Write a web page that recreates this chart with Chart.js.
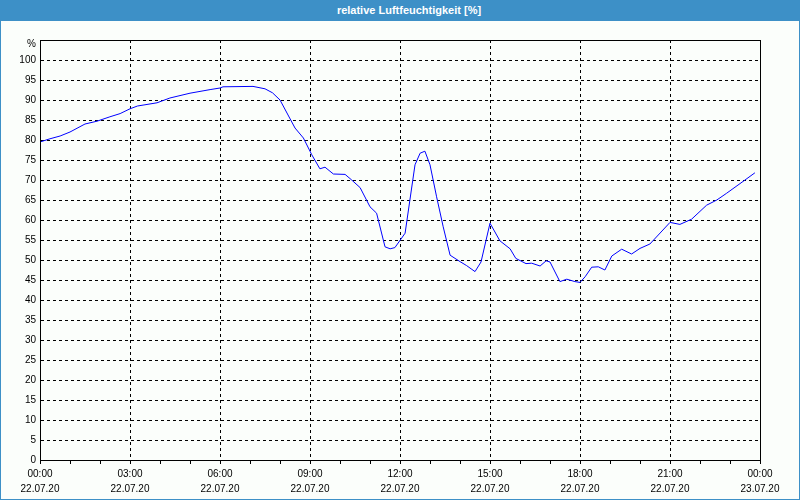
<!DOCTYPE html>
<html>
<head>
<meta charset="utf-8">
<script src="https://cdn.jsdelivr.net/npm/chart.js@4.4.0/dist/chart.umd.min.js"></script>
<style>
  body { margin: 0; background: #fbfefb; }
  #frame { position: relative; width: 800px; height: 500px; overflow: hidden; }
  #chart { position: absolute; left: 0; top: 0; }
  #title {
    position: absolute; left: 0; top: 0; width: 800px; height: 21px;
    background: #3d90c7; color: #fff; text-align: center;
    font: bold 11px "Liberation Sans", sans-serif; line-height: 20px;
    padding-left: 18px; box-sizing: border-box;
  }
  #border {
    position: absolute; left: 0; top: 0; width: 800px; height: 500px;
    box-sizing: border-box; border: 1px solid #3d90c7; pointer-events: none;
  }
</style>
</head>
<body>
<div id="frame">
  <canvas id="chart" width="800" height="500"></canvas>
  <div id="title">relative Luftfeuchtigkeit [%]</div>
  <div id="border"></div>
</div>
<script>
// hours since 22.07.20 00:00
const hours = [0, 0.33, 0.67, 1.0, 1.5, 1.9, 2.33, 2.67, 3.0, 3.25, 3.9, 4.33, 5.0, 5.67, 6.0, 6.1,
  7.1, 7.5, 7.75, 8.0, 8.25, 8.5, 8.78, 9.06, 9.33, 9.5, 9.78, 10.17, 10.39, 10.67, 11.0, 11.22,
  11.5, 11.67, 11.83, 12.17, 12.33, 12.5, 12.67, 12.83, 13.0, 13.22, 13.44, 13.67, 14.0, 14.22,
  14.5, 14.7, 15.0, 15.33, 15.67, 15.86, 16.2, 16.39, 16.67, 16.87, 17.0, 17.33, 17.56, 17.83,
  18.0, 18.17, 18.39, 18.61, 18.83, 19.06, 19.39, 19.72, 20.0, 20.33, 21.0, 21.33, 21.72, 22.22,
  22.56, 22.89, 23.5, 23.83];
const humidity = [79.5, 80.3, 81, 82, 84, 84.7, 85.8, 86.6, 87.8, 88.5, 89.3, 90.5, 91.7, 92.6, 93, 93.3,
  93.4, 92.8, 91.8, 90, 86.5, 83, 80.5, 76.3, 72.8, 73.2, 71.5, 71.4, 70, 68.1, 63.3, 61.7,
  53.3, 52.8, 53.1, 56.7, 65, 73.8, 76.7, 77.2, 73.8, 65.8, 58.3, 51.2, 49.6, 48.6,
  47.1, 49.5, 59.2, 54.8, 52.8, 50.4, 49.1, 49.2, 48.5, 49.8, 49.5, 44.6, 45.2, 44.6,
  44.4, 45.8, 48.2, 48.3, 47.5, 51, 52.7, 51.5, 52.9, 54, 59.4, 58.9, 60.2, 63.7,
  65, 66.7, 70, 71.8];

const timeLabels = ['00:00', '03:00', '06:00', '09:00', '12:00', '15:00', '18:00', '21:00', '00:00'];
const dateLabels = ['22.07.20', '22.07.20', '22.07.20', '22.07.20', '22.07.20', '22.07.20', '22.07.20', '22.07.20', '23.07.20'];
const unitLabel = '%';

Chart.defaults.font.family = '"Liberation Sans", sans-serif';
Chart.defaults.font.size = 10;
Chart.defaults.color = '#000';

// solid frame round the plot plus the unit label above the y ticks
const plotFrame = {
  id: 'plotFrame',
  afterDraw(chart) {
    const a = chart.chartArea;
    const ctx = chart.ctx;
    ctx.save();
    ctx.strokeStyle = '#000';
    ctx.lineWidth = 1;
    ctx.strokeRect(a.left + 0.5, a.top + 0.5, a.right - a.left, a.bottom - a.top);
    ctx.fillStyle = '#000';
    ctx.font = '10px "Liberation Sans", sans-serif';
    ctx.textAlign = 'right';
    ctx.textBaseline = 'middle';
    ctx.fillText(unitLabel, a.left - 4, chart.scales.y.getPixelForValue(105) + 4);
    ctx.restore();
  }
};

new Chart(document.getElementById('chart'), {
  type: 'line',
  data: {
    datasets: [{
      data: hours.map((h, i) => ({ x: h, y: humidity[i] })),
      borderColor: '#0000ff',
      borderWidth: 1,
      pointRadius: 0,
      tension: 0,
      fill: false
    }]
  },
  options: {
    responsive: false,
    animation: false,
    devicePixelRatio: 1,
    layout: { padding: { left: 0, right: 40, top: 40, bottom: 0 } },
    plugins: { legend: { display: false }, tooltip: { enabled: false } },
    scales: {
      x: {
        type: 'linear',
        min: 0,
        max: 24,
        afterFit: (s) => { s.height = 40; },
        ticks: {
          stepSize: 1,
          autoSkip: false,
          maxRotation: 0,
          padding: 2,
          font: { lineHeight: 1.55 },
          callback: (v) => v % 3 === 0 ? [timeLabels[v / 3], dateLabels[v / 3]] : ''
        },
        grid: {
          color: (ctx) => (ctx.tick && ctx.tick.value % 3 === 0 && ctx.tick.value > 0 && ctx.tick.value < 24) ? '#000' : 'rgba(0,0,0,0)',
          tickColor: '#000',
          tickLength: 4,
          lineWidth: 1
        },
        border: { display: true, color: '#000', dash: [3, 3] }
      },
      y: {
        min: 0,
        max: 105,
        afterFit: (s) => { s.width = 40; },
        ticks: {
          stepSize: 5,
          padding: 4,
          callback: (v) => v === 105 ? '' : v
        },
        grid: {
          color: (ctx) => (ctx.tick && ctx.tick.value > 0 && ctx.tick.value < 105) ? '#000' : 'rgba(0,0,0,0)',
          drawTicks: false,
          lineWidth: 1
        },
        border: { display: true, color: '#000', dash: [3, 3] }
      }
    }
  },
  plugins: [plotFrame]
});
</script>
</body>
</html>
